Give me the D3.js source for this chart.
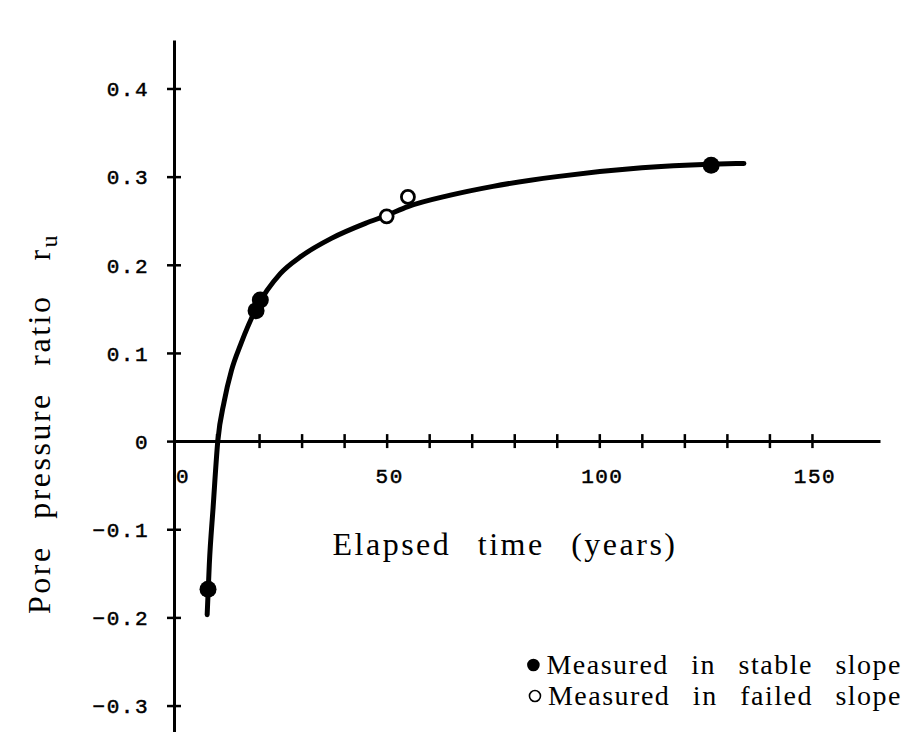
<!DOCTYPE html>
<html>
<head>
<meta charset="utf-8">
<script src="https://cdn.jsdelivr.net/npm/d3@7/dist/d3.min.js"></script>
<style>
  body { margin: 0; background: #fff; }
  text { fill: #000; }
  .mono { font-family: "Liberation Mono", monospace; font-size: 21px; letter-spacing: 1.5px; stroke: #000; stroke-width: 0.5px; }
  .serif { font-family: "Liberation Serif", "Times New Roman", serif; }
</style>
</head>
<body>
<svg id="chart" width="915" height="732"></svg>
<script>
// measured in stable slope (filled)
var stableT = [8.0, 19.3, 20.3, 126.3];
var stableR = [-0.168, 0.148, 0.160, 0.313];
// measured in failed slope (open)
var failedT = [50.0, 55.0];
var failedR = [0.255, 0.277];
// the drawn trend curve
var curveT = [7.8, 8.3, 9.2, 10.3, 11.8, 13.5, 15.7, 19.5, 25.0, 30.0, 37.0, 45.0, 50.0, 55.0, 65.0, 75.0, 90.0, 110.0, 126.0, 134.0];
var curveR = [-0.197, -0.14, -0.075, 0.0, 0.045, 0.08, 0.11, 0.152, 0.19, 0.21, 0.23, 0.247, 0.256, 0.266, 0.279, 0.289, 0.300, 0.310, 0.314, 0.315];
// ticks
var xTicks = [10, 20, 30, 40, 50, 60, 70, 80, 90, 100, 110, 120, 130, 140, 150];
var xTickLabels = [0, 50, 100, 150];
var yTicks = [-0.3, -0.2, -0.1, 0, 0.1, 0.2, 0.3, 0.4];

var svg = d3.select("#chart");

// scales
var x = d3.scaleLinear().domain([0, 166]).range([174, 880]);
var y = d3.scaleLinear().domain([-0.33, 0.455]).range([732, 40]);

// x axis along r = 0
var xAxis = svg.append("g")
    .attr("transform", "translate(0," + y(0) + ")")
    .call(d3.axisBottom(x).tickValues(xTicks).tickSize(7).tickSizeOuter(0).tickFormat(""));
xAxis.select(".domain").attr("stroke", "#000").attr("stroke-width", 3);
xAxis.selectAll(".tick line").attr("y1", -7).attr("stroke-width", 2.5);

// x tick labels
svg.selectAll("text.xlab")
    .data(xTickLabels)
    .enter().append("text")
    .attr("class", "xlab mono")
    .attr("x", function(d) { return d === 0 ? x(d) + 9 : x(d) + 3; })
    .attr("y", 483)
    .attr("text-anchor", "middle")
    .text(function(d) { return d; });

// y axis
var yAxis = svg.append("g")
    .attr("transform", "translate(" + x(0) + ",0)")
    .call(d3.axisLeft(y).tickValues(yTicks).tickSize(7).tickSizeOuter(0).tickPadding(18)
        .tickFormat(function(d) { return d === 0 ? "0" : d3.format(".1f")(d); }));
yAxis.select(".domain").attr("stroke", "#000").attr("stroke-width", 3);
yAxis.selectAll(".tick line").attr("x1", 7).attr("stroke-width", 2.5);
yAxis.selectAll(".tick text").attr("class", "mono").attr("dy", "0.35em")
    .attr("font-family", null).attr("font-size", null);

// trend curve
var line = d3.line()
    .x(function(d, i) { return x(curveT[i]); })
    .y(function(d, i) { return y(curveR[i]); })
    .curve(d3.curveMonotoneX);

svg.append("path")
    .datum(curveT)
    .attr("d", line)
    .attr("fill", "none")
    .attr("stroke", "#000")
    .attr("stroke-width", 5)
    .attr("stroke-linecap", "round");

// stable slope points
svg.selectAll("circle.stable")
    .data(stableT)
    .enter().append("circle")
    .attr("class", "stable")
    .attr("cx", function(d) { return x(d); })
    .attr("cy", function(d, i) { return y(stableR[i]); })
    .attr("r", 8.5)
    .attr("fill", "#000");

// failed slope points
svg.selectAll("circle.failed")
    .data(failedT)
    .enter().append("circle")
    .attr("class", "failed")
    .attr("cx", function(d) { return x(d); })
    .attr("cy", function(d, i) { return y(failedR[i]); })
    .attr("r", 6.5)
    .attr("fill", "#fff")
    .attr("stroke", "#000")
    .attr("stroke-width", 2.8);

// x title
svg.append("text")
    .attr("class", "serif")
    .attr("x", 505)
    .attr("y", 555)
    .attr("text-anchor", "middle")
    .style("font-size", "32px")
    .style("letter-spacing", "2.5px")
    .style("word-spacing", "16px")
    .text("Elapsed time (years)");

// y title (rotated)
var yt = svg.append("text")
    .attr("class", "serif")
    .attr("transform", "translate(50,614) rotate(-90)")
    .style("font-size", "32px")
    .style("letter-spacing", "2.5px")
    .style("word-spacing", "16px");
yt.append("tspan").text("Pore pressure ratio");
yt.append("tspan").attr("dx", 34).text("r");
yt.append("tspan").attr("dy", 7).style("font-size", "24px").text("u");

// legend
var legend = [
    { label: "Measured in stable slope", filled: true },
    { label: "Measured in failed slope", filled: false }
];
var lg = svg.selectAll("g.legend")
    .data(legend)
    .enter().append("g")
    .attr("class", "legend")
    .attr("transform", function(d, i) { return "translate(0," + (674 + i * 31) + ")"; });
var lgText = lg.append("text")
    .attr("class", "serif")
    .attr("x", 902)
    .attr("text-anchor", "end")
    .style("font-size", "28px")
    .style("letter-spacing", "1.5px")
    .style("word-spacing", "14px")
    .text(function(d) { return d.label; });
lg.append("circle")
    .attr("cx", function(d, i) { return lgText.nodes()[i].getBBox().x - 13; })
    .attr("cy", -9)
    .attr("r", 5.5)
    .attr("fill", function(d) { return d.filled ? "#000" : "#fff"; })
    .attr("stroke", "#000")
    .attr("stroke-width", 1.6);
</script>
</body>
</html>
